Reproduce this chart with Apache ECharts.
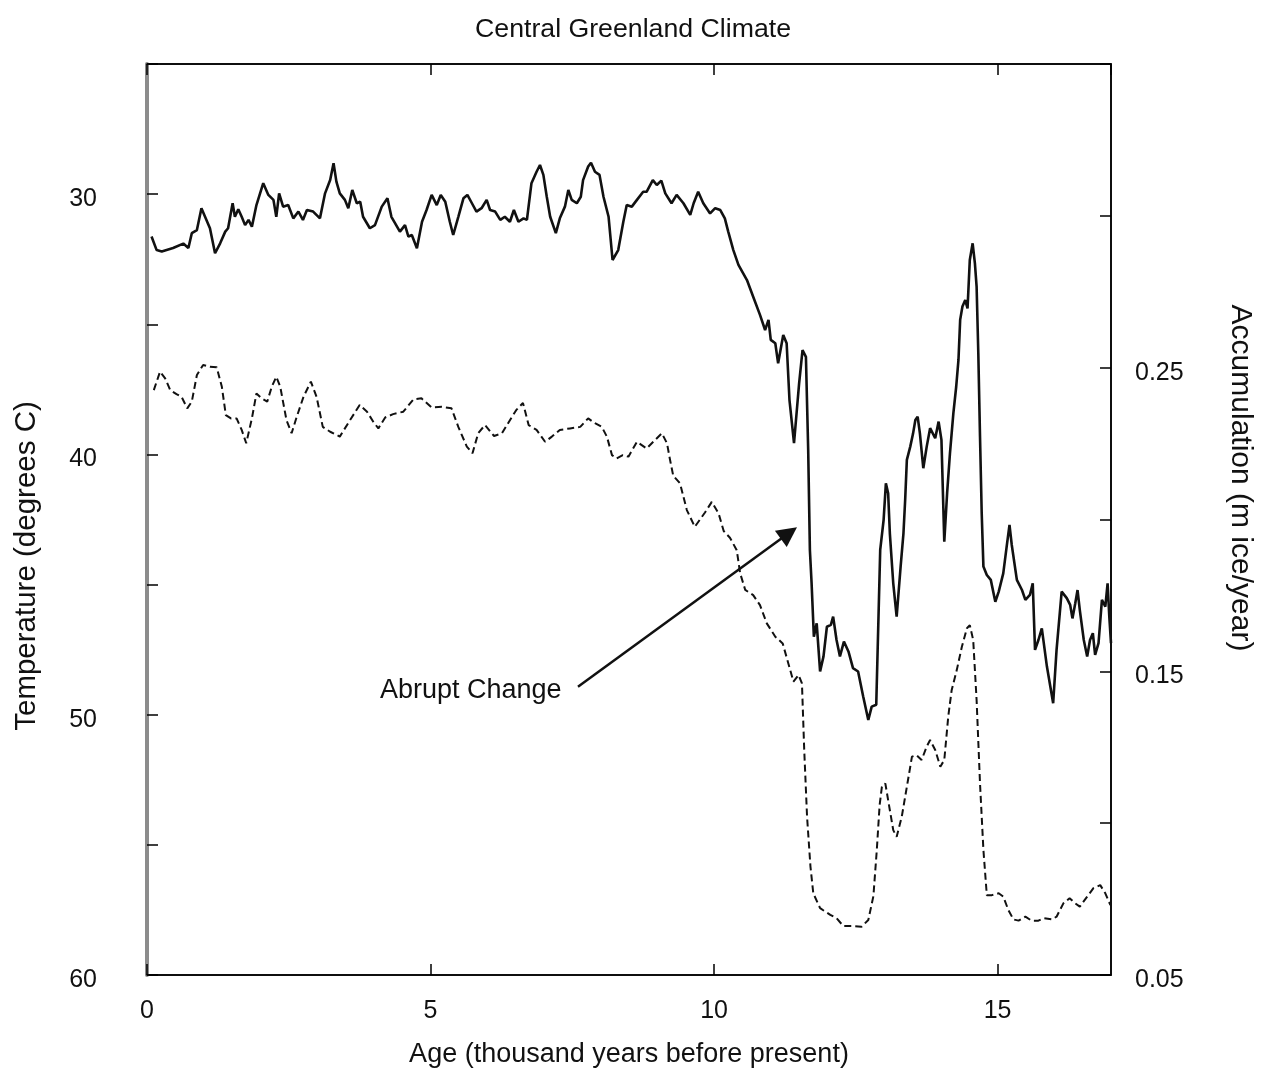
<!DOCTYPE html>
<html>
<head>
<meta charset="utf-8">
<script src="https://cdn.jsdelivr.net/npm/echarts@6/dist/echarts.min.js"></script>
<style>
html,body{margin:0;padding:0;background:#fff;}
#chart{width:1266px;height:1068px;}
</style>
</head>
<body>
<div id="chart"></div>
<script>
// ---- Data ----
const tempAge = [0.08,0.17,0.26,0.46,0.64,0.73,0.79,0.88,0.96,1.11,1.2,1.29,1.38,1.43,1.51,1.55,1.61,1.67,1.73,1.79,1.85,1.93,2.05,2.14,2.23,2.28,2.33,2.40,2.49,2.58,2.67,2.75,2.82,2.93,3.05,3.14,3.23,3.29,3.34,3.40,3.49,3.55,3.62,3.70,3.76,3.81,3.93,4.02,4.14,4.24,4.31,4.46,4.55,4.61,4.67,4.76,4.85,4.93,5.02,5.11,5.18,5.26,5.34,5.40,5.49,5.58,5.65,5.73,5.81,5.90,5.99,6.05,6.14,6.23,6.31,6.40,6.47,6.55,6.64,6.70,6.78,6.87,6.93,6.99,7.05,7.11,7.21,7.28,7.37,7.43,7.49,7.58,7.65,7.69,7.78,7.83,7.90,7.98,8.05,8.14,8.21,8.31,8.40,8.46,8.55,8.64,8.75,8.81,8.92,8.99,9.07,9.14,9.25,9.34,9.46,9.58,9.64,9.72,9.81,9.93,10.02,10.11,10.19,10.25,10.34,10.43,10.58,10.69,10.81,10.90,10.96,11.0,11.08,11.13,11.22,11.28,11.33,11.41,11.50,11.56,11.62,11.66,11.69,11.72,11.76,11.81,11.87,11.93,11.99,12.06,12.10,12.16,12.22,12.29,12.37,12.45,12.54,12.63,12.72,12.78,12.86,12.93,12.99,13.03,13.07,13.10,13.16,13.22,13.29,13.34,13.37,13.40,13.46,13.51,13.55,13.59,13.63,13.69,13.75,13.81,13.90,13.96,14.01,14.06,14.11,14.16,14.22,14.27,14.31,14.34,14.38,14.43,14.47,14.51,14.56,14.60,14.63,14.66,14.69,14.72,14.75,14.81,14.88,14.96,15.02,15.10,15.16,15.21,15.25,15.28,15.34,15.43,15.49,15.57,15.62,15.66,15.72,15.78,15.87,15.98,16.04,16.13,16.22,16.28,16.32,16.37,16.41,16.45,16.52,16.58,16.63,16.68,16.72,16.78,16.84,16.90,16.94,16.97,17.0];
const tempValue = [31.63,32.15,32.2,32.07,31.9,32.07,31.5,31.38,30.54,31.31,32.27,31.89,31.44,31.31,30.35,30.87,30.58,30.87,31.19,30.99,31.25,30.42,29.58,30.03,30.22,30.87,29.97,30.48,30.42,30.93,30.67,30.99,30.61,30.67,30.93,29.97,29.46,28.81,29.52,29.97,30.22,30.54,29.84,30.35,30.29,30.87,31.31,31.19,30.48,30.16,30.87,31.44,31.19,31.63,31.57,32.08,31.06,30.61,30.03,30.42,30.03,30.29,31.06,31.57,30.87,30.16,30.03,30.35,30.67,30.54,30.22,30.61,30.67,30.99,30.87,31.06,30.61,31.06,30.93,30.99,29.58,29.14,28.88,29.26,30.10,30.87,31.50,30.93,30.48,29.84,30.22,30.35,30.10,29.46,28.94,28.79,29.14,29.26,30.10,30.87,32.53,32.15,31.06,30.42,30.48,30.22,29.91,29.91,29.46,29.65,29.48,29.97,30.35,30.03,30.35,30.80,30.35,29.91,30.35,30.74,30.54,30.61,30.93,31.44,32.15,32.72,33.30,33.94,34.64,35.22,34.83,35.60,35.73,36.50,35.41,35.73,37.91,39.57,37.27,35.99,36.25,39.83,43.67,44.95,47.0,46.49,48.34,47.76,46.62,46.55,46.23,47.13,47.76,47.19,47.57,48.21,48.34,49.30,50.20,49.69,49.62,43.67,42.52,41.11,41.49,43.03,44.95,46.23,44.31,43.03,41.75,40.21,39.70,39.19,38.68,38.55,39.19,40.53,39.70,38.99,39.38,38.74,39.44,43.35,41.49,39.96,38.42,37.40,36.37,34.83,34.32,34.07,34.39,32.53,31.89,32.66,33.55,36.11,39.31,42.26,44.31,44.63,44.82,45.66,45.27,44.57,43.54,42.71,43.48,43.41,44.82,45.21,45.59,45.40,44.95,47.51,47.13,46.68,48.15,49.56,47.51,45.27,45.52,45.78,46.30,45.72,45.21,45.98,47.13,47.76,47.13,46.87,47.70,47.25,45.59,45.85,44.95,46.23,47.25];

const accAge = [0.12,0.23,0.32,0.41,0.52,0.61,0.71,0.79,0.88,0.99,1.11,1.23,1.32,1.39,1.48,1.58,1.67,1.75,1.85,1.93,2.02,2.12,2.20,2.28,2.35,2.46,2.55,2.64,2.76,2.89,2.99,3.10,3.23,3.40,3.58,3.75,3.88,3.99,4.08,4.20,4.34,4.52,4.70,4.84,5.02,5.20,5.37,5.49,5.64,5.74,5.84,5.96,6.12,6.26,6.40,6.51,6.63,6.73,6.87,7.02,7.14,7.28,7.46,7.64,7.78,7.90,8.02,8.11,8.20,8.28,8.39,8.49,8.64,8.81,8.96,9.08,9.17,9.22,9.28,9.40,9.52,9.66,9.84,9.96,10.08,10.17,10.28,10.40,10.46,10.55,10.69,10.81,10.93,11.08,11.21,11.31,11.40,11.49,11.55,11.59,11.64,11.70,11.75,11.87,12.05,12.16,12.28,12.45,12.60,12.72,12.81,12.87,12.92,12.96,13.02,13.07,13.16,13.22,13.31,13.40,13.49,13.57,13.66,13.75,13.81,13.90,13.99,14.06,14.13,14.19,14.28,14.37,14.46,14.51,14.57,14.63,14.69,14.75,14.81,14.90,15.02,15.10,15.19,15.28,15.37,15.49,15.60,15.72,15.81,15.96,16.04,16.16,16.27,16.37,16.45,16.58,16.69,16.81,16.90,16.99];
const accValue = [0.2426,0.2487,0.2465,0.2426,0.2413,0.2404,0.2366,0.2388,0.2476,0.2509,0.2503,0.2501,0.2437,0.2344,0.2333,0.2333,0.2295,0.2251,0.2333,0.2415,0.2399,0.2388,0.2437,0.2470,0.2437,0.2327,0.2284,0.2338,0.2404,0.2454,0.2404,0.2305,0.2289,0.2273,0.2327,0.2377,0.2355,0.2322,0.2300,0.2336,0.2347,0.2355,0.2396,0.2399,0.2369,0.2371,0.2366,0.2305,0.2240,0.2218,0.2284,0.2311,0.2275,0.2284,0.2327,0.2360,0.2384,0.2311,0.2295,0.2256,0.2273,0.2295,0.2300,0.2305,0.2333,0.2317,0.2305,0.2273,0.2212,0.2201,0.2212,0.2207,0.2256,0.2234,0.2262,0.2284,0.2251,0.2200,0.2144,0.2119,0.2031,0.1976,0.2023,0.2058,0.2020,0.1962,0.1940,0.1899,0.1823,0.1768,0.1751,0.1718,0.1658,0.1614,0.1592,0.1526,0.1466,0.1488,0.1460,0.1241,0.1021,0.0857,0.0769,0.0720,0.0698,0.0687,0.0661,0.0661,0.0659,0.0681,0.0760,0.0912,0.1060,0.1120,0.1131,0.1076,0.0977,0.0955,0.1021,0.1120,0.1219,0.1224,0.1208,0.1252,0.1274,0.1241,0.1186,0.1208,0.1351,0.1438,0.1504,0.1581,0.1642,0.1652,0.1603,0.1405,0.1131,0.0912,0.0763,0.0763,0.0769,0.0758,0.0714,0.0683,0.0679,0.0692,0.0679,0.0679,0.0687,0.0683,0.0692,0.0736,0.0753,0.0736,0.0725,0.0758,0.0786,0.0796,0.0769,0.0730];

const tempLabels = [30, 40, 50, 60];
const accLabels = [0.05, 0.15, 0.25];
const annotationText = 'Abrupt Change';
const annotationTextAt = [5.71, 49.09];
const arrowFrom = [7.60, 48.93];
const arrowTo = [11.32, 43.02];

// ---- Chart ----
const FONT = "'Liberation Sans', Arial, Helvetica, sans-serif";
const INK = '#111';
const chart = echarts.init(document.getElementById('chart'), null, {renderer: 'canvas'});

const tempData = tempAge.map((a, i) => [a, tempValue[i]]);
const accData = accAge.map((a, i) => [a, accValue[i]]);

const tickCommon = {show: true, inside: true, length: 11, lineStyle: {color: '#000', width: 1.5}};

const option = {
  animation: false,
  backgroundColor: '#fff',
  title: {
    text: 'Central Greenland Climate',
    left: 'center',
    top: 11,
    textStyle: {fontFamily: FONT, fontSize: 26.7, fontWeight: 'normal', color: INK}
  },
  grid: {
    left: 147, right: 155, top: 64, bottom: 93,
    containLabel: false, outerBoundsMode: 'none',
    show: true, borderColor: '#000', borderWidth: 1.5, backgroundColor: 'transparent'
  },
  xAxis: [
    {
      type: 'value', min: 0, max: 17, interval: 5, position: 'bottom',
      name: 'Age (thousand years before present)', nameLocation: 'middle', nameGap: 66,
      nameTextStyle: {fontFamily: FONT, fontSize: 27, color: INK},
      axisLine: {show: true, onZero: false, lineStyle: {color: '#000', width: 1.5}},
      axisTick: tickCommon,
      axisLabel: {margin: 24, fontFamily: FONT, fontSize: 25, color: INK, showMaxLabel: false},
      splitLine: {show: false}
    },
    {
      type: 'value', min: 0, max: 17, interval: 5, position: 'top',
      axisLine: {show: true, onZero: false, lineStyle: {color: '#000', width: 1.5}},
      axisTick: tickCommon,
      axisLabel: {show: false},
      splitLine: {show: false}
    }
  ],
  yAxis: [
    {
      type: 'value', min: 25, max: 60, interval: 5, inverse: true, position: 'left',
      axisLine: {show: true, onZero: false, lineStyle: {color: '#8c8c8c', width: 4}},
      axisTick: tickCommon,
      axisLabel: {
        margin: 50, fontFamily: FONT, fontSize: 25, color: INK,
        verticalAlign: 'top', lineHeight: 10,
        formatter: v => tempLabels.includes(Math.round(v)) ? String(Math.round(v)) : ''
      },
      splitLine: {show: false}
    },
    {
      type: 'value', min: 0.05, max: 0.35, interval: 0.05, position: 'right',
      axisLine: {show: true, onZero: false, lineStyle: {color: '#000', width: 1.5}},
      axisTick: tickCommon,
      axisLabel: {
        margin: 24, fontFamily: FONT, fontSize: 25, color: INK, showMaxLabel: true,
        verticalAlign: 'top', lineHeight: 10,
        formatter: v => accLabels.some(l => Math.abs(l - v) < 1e-6) ? v.toFixed(2) : ''
      },
      splitLine: {show: false}
    }
  ],
  graphic: [
    {
      type: 'text', x: 27, y: 566, rotation: Math.PI / 2,
      style: {text: 'Temperature (degrees C)', font: "29.5px 'Liberation Sans', Arial, sans-serif", fill: INK, textAlign: 'center', textVerticalAlign: 'middle'}
    },
    {
      type: 'text', x: 1240, y: 478, rotation: -Math.PI / 2,
      style: {text: 'Accumulation (m ice/year)', font: "30px 'Liberation Sans', Arial, sans-serif", fill: INK, textAlign: 'center', textVerticalAlign: 'middle'}
    }
  ],
  series: [
    {
      name: 'Temperature', type: 'line', xAxisIndex: 0, yAxisIndex: 0,
      data: tempData, showSymbol: false, symbol: 'none', smooth: false,
      lineStyle: {color: INK, width: 2.6},
      markLine: {
        silent: true, animation: false,
        symbol: ['none', 'triangle'], symbolSize: 20,
        lineStyle: {color: INK, width: 2.5, type: 'solid'},
        label: {show: false},
        data: [[{coord: arrowFrom}, {coord: arrowTo}]]
      },
      markPoint: {
        silent: true, animation: false,
        symbol: 'rect', symbolSize: 1, itemStyle: {color: 'rgba(0,0,0,0)'},
        label: {show: true, position: 'inside', formatter: annotationText, fontFamily: FONT, fontSize: 27, color: INK},
        data: [{coord: annotationTextAt}]
      }
    },
    {
      name: 'Accumulation', type: 'line', xAxisIndex: 0, yAxisIndex: 1,
      data: accData, showSymbol: false, symbol: 'none', smooth: false,
      lineStyle: {color: INK, width: 2, type: [7, 4]}
    }
  ]
};
chart.setOption(option);
</script>
</body>
</html>
